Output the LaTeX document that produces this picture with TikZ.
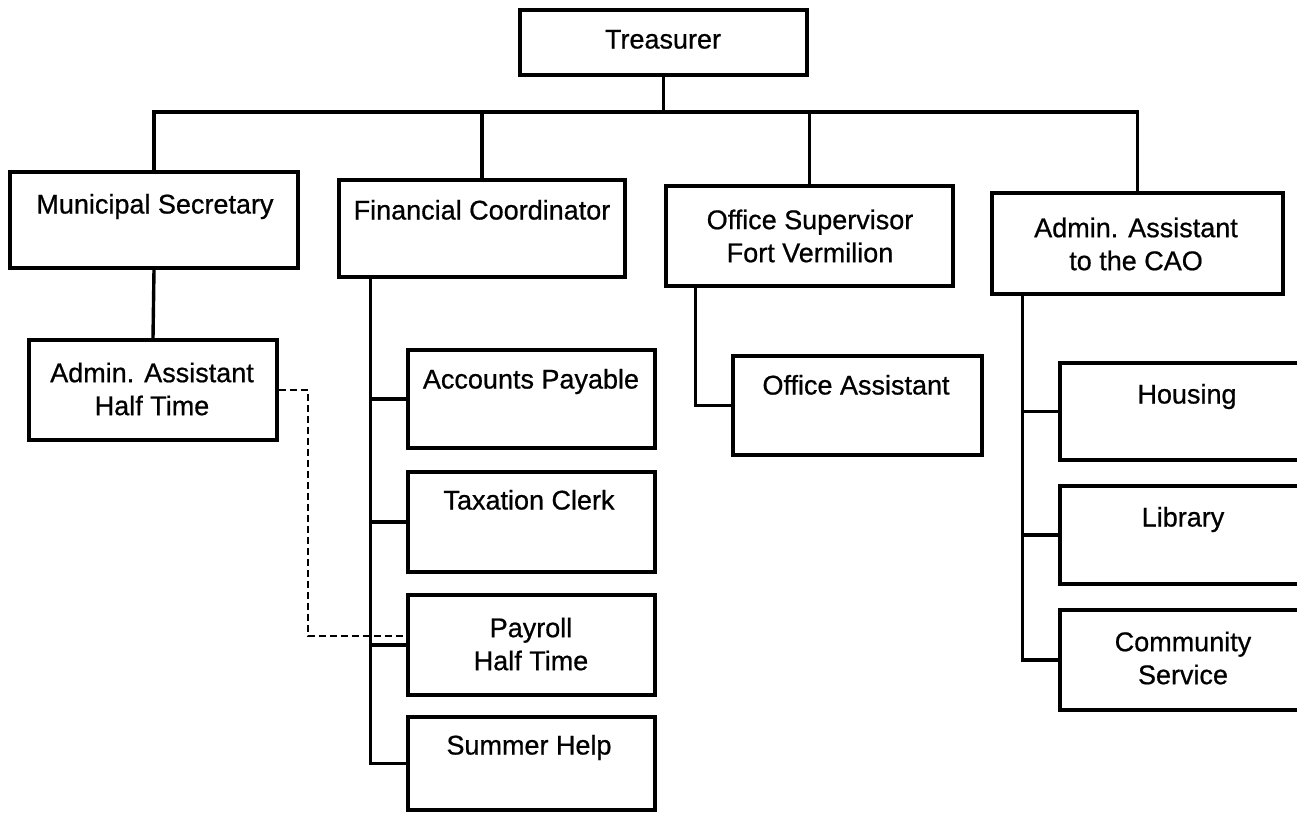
\documentclass[tikz,border=0pt]{standalone}
\usepackage{fontspec}
\setmainfont{Liberation Sans}
\newfontfamily\lblfont[FakeBold=0.7]{Liberation Sans}
\usetikzlibrary{calc}
\begin{document}
\begin{tikzpicture}[x=1pt,y=-1pt,
  box/.style={draw,line width=3.4pt,inner sep=0pt},
  lbl/.style={font=\lblfont\fontsize{27}{33}\selectfont,align=center,inner sep=0pt,text height=19pt,text depth=6pt},
  lbltwo/.style={font=\lblfont\fontsize{27}{33}\selectfont,align=center,inner sep=0pt},
  conn/.style={line width=3.4pt},
  dashline/.style={line width=2.8pt,dash pattern=on 7pt off 4pt}]
\useasboundingbox (0,0) rectangle (1297,814);
% boxes
\node[box,minimum width=287pt,minimum height=65pt] (tr) at (663.5,42.5) {};
\node[box,minimum width=288pt,minimum height=96pt] (ms) at (154,220) {};
\node[box,minimum width=286pt,minimum height=97pt] (fc) at (482,228.5) {};
\node[box,minimum width=287pt,minimum height=100pt] (os) at (809.5,236) {};
\node[box,minimum width=291pt,minimum height=101pt] (ac) at (1137.5,243.5) {};
\node[box,minimum width=248pt,minimum height=100pt] (ah) at (153,390) {};
\node[box,minimum width=247pt,minimum height=98pt] (ap) at (531.5,399) {};
\node[box,minimum width=247pt,minimum height=100pt] (tc) at (531.5,522) {};
\node[box,minimum width=247pt,minimum height=100pt] (ph) at (531.5,645) {};
\node[box,minimum width=247pt,minimum height=93pt] (sh) at (531.5,763.5) {};
\node[box,minimum width=249pt,minimum height=99pt] (oa) at (857.5,405.5) {};
\node[box,minimum width=250pt,minimum height=97pt] (ho) at (1185,411.5) {};
\node[box,minimum width=250pt,minimum height=98pt] (li) at (1185,535) {};
\node[box,minimum width=250pt,minimum height=100pt] (cs) at (1185,660) {};
% texts
\node[lbl] (trt) at (663,42) {Treasurer};
\node[lbl] (mst) at (155,207) {Municipal Secretary};
\node[lbl] (fct) at (482,213) {Financial Coordinator};
\node[lbltwo] (ost) at (810,236) {Office Supervisor\\Fort Vermilion};
\node[lbltwo] (act) at (1136,244) {Admin. Assistant\\to the CAO};
\node[lbltwo] (aht) at (152,389) {Admin. Assistant\\Half Time};
\node[lbl] (apt) at (531,382) {Accounts Payable};
\node[lbl] (tct) at (529,503) {Taxation Clerk};
\node[lbltwo] (pht) at (531,644) {Payroll\\Half Time};
\node[lbl] (sht) at (529,748) {Summer Help};
\node[lbl] (oat) at (856,388) {Office Assistant};
\node[lbl] (hot) at (1187,397) {Housing};
\node[lbl] (lit) at (1183,520) {Library};
\node[lbltwo] (cst) at (1183,658) {Community\\Service};
% connectors
\coordinate (bar) at (663.5,112);
\draw[conn] (tr.south) -- (bar);
\draw[conn] (ms.north) |- (bar) -| (ac.north);
\draw[conn] (fc.north) -- (fc.north |- bar);
\draw[conn] (os.north) -- (os.north |- bar);
\draw[conn] (ms.south) -- (ah.north);
\coordinate (fcs) at ($(fc.south west)+(33,0)$);
\draw[conn] (fcs) |- (sh.west);
\draw[conn] (fcs |- ap.west) -- (ap.west);
\draw[conn] (fcs |- tc.west) -- (tc.west);
\draw[conn] (fcs |- ph.west) -- (ph.west);
\coordinate (oss) at ($(os.south west)+(31,0)$);
\draw[conn] (oss) |- (oa.west);
\coordinate (acs) at ($(ac.south west)+(32,0)$);
\draw[conn] (acs) |- (cs.west);
\draw[conn] (acs |- ho.west) -- (ho.west);
\draw[conn] (acs |- li.west) -- (li.west);
% dashed link
\coordinate (dk) at (308,636);
\draw[dashline] (ah.east) -| (dk) -- (dk -| ph.west);
\end{tikzpicture}
\end{document}
